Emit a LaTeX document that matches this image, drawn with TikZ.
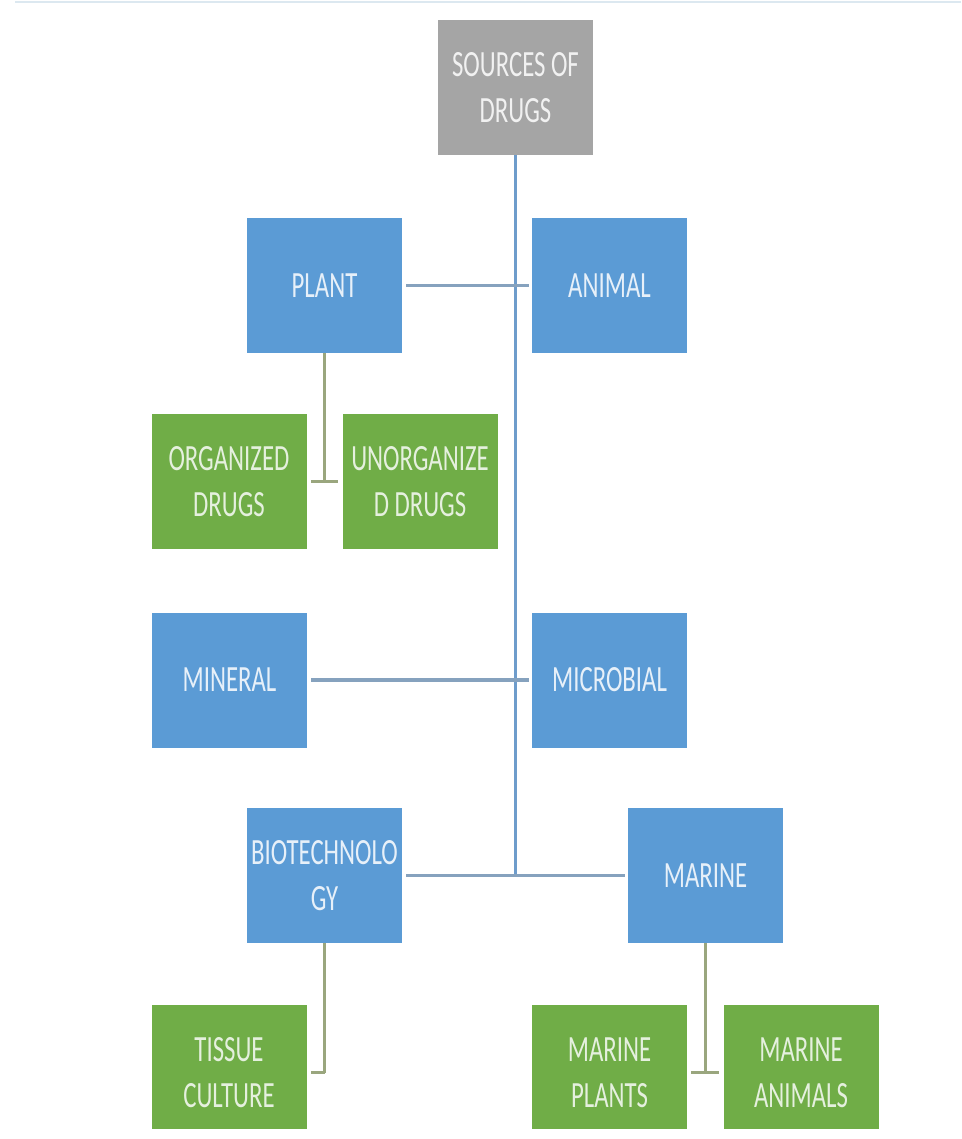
\documentclass[tikz,border=0pt]{standalone}
\usepackage{fontspec}
\setmainfont{Carlito}[FakeStretch=0.67]
\definecolor{boxblue}{HTML}{5B9BD5}
\definecolor{boxgreen}{HTML}{70AD47}
\definecolor{boxgray}{HTML}{A5A5A5}
\definecolor{mainline}{HTML}{6E9CCB}
\definecolor{hline}{HTML}{86A2BE}
\definecolor{subline}{HTML}{9AA67E}
\definecolor{topline}{HTML}{DCE8F0}
\tikzset{
  basebox/.style={rectangle, inner sep=0pt, minimum width=116.25pt, minimum height=101.25pt,
    align=center, font=\fontsize{27.75pt}{34.5pt}\selectfont},
  bluebox/.style={basebox, fill=boxblue, text=white!85!boxblue},
  greenbox/.style={basebox, fill=boxgreen, text=white!82!boxgreen},
  graybox/.style={basebox, fill=boxgray, text=white!85!boxgray},
  mainconn/.style={draw=mainline, line width=2pt},
  hconn/.style={draw=hline, line width=2.6pt, shorten <=3pt, shorten >=2pt},
  subconn/.style={draw=subline, line width=1.9pt},
  subh/.style={draw=subline, line width=2.2pt, shorten <=3pt, shorten >=3pt},
}
\begin{document}
\begin{tikzpicture}[x=0.75pt, y=-0.75pt]
\useasboundingbox (0,0) rectangle (961,1139);
\draw[topline, line width=1.1pt] (15,2) -- (961,2);
\begin{scope}
\clip (0,0) rectangle (961,1128);
\node[graybox]  (src)      at (515.5,87.5)  {SOURCES OF\\DRUGS};
\node[bluebox]  (plant)    at (324.5,285.5) {PLANT};
\node[bluebox]  (animal)   at (609.5,285.5) {ANIMAL};
\node[greenbox] (org)      at (229,481.5)   {ORGANIZED\\DRUGS};
\node[greenbox] (unorg)    at (420,481.5)   {UNORGANIZE\\D DRUGS};
\node[bluebox]  (mineral)  at (229.5,680)   {MINERAL};
\node[bluebox]  (microbial) at (609.5,680)  {MICROBIAL};
\node[bluebox]  (biotech)  at (324.5,875.5) {BIOTECHNOLO\\GY};
\node[bluebox]  (marine)   at (705.5,875.5) {MARINE};
\node[greenbox] (tissue)   at (229,1072.5)  {TISSUE\\CULTURE};
\node[greenbox] (mplants)  at (609.5,1072.5) {MARINE\\PLANTS};
\node[greenbox] (manimals) at (801,1072.5)  {MARINE\\ANIMALS};

\coordinate (trunkend) at (src.south |- biotech.east);
\draw[mainconn] (src.south) -- (trunkend);
\draw[hconn] (plant.east) -- (animal.west);
\draw[hconn] (mineral.east) -- (microbial.west);
\draw[hconn] (biotech.east) -- (marine.west);

\coordinate (plantj) at (plant.south |- org.east);
\draw[subconn] (plant.south) -- (plantj);
\draw[subh] (org.east) -- (unorg.west);

\coordinate (biotechj) at (biotech.south |- tissue.east);
\draw[subconn] (biotech.south) -- (biotechj);
\draw[subh, shorten <=0pt] (biotechj) -- (tissue.east);

\coordinate (marinej) at (marine.south |- mplants.east);
\draw[subconn] (marine.south) -- (marinej);
\draw[subh] (mplants.east) -- (manimals.west);
\end{scope}
\end{tikzpicture}
\end{document}
